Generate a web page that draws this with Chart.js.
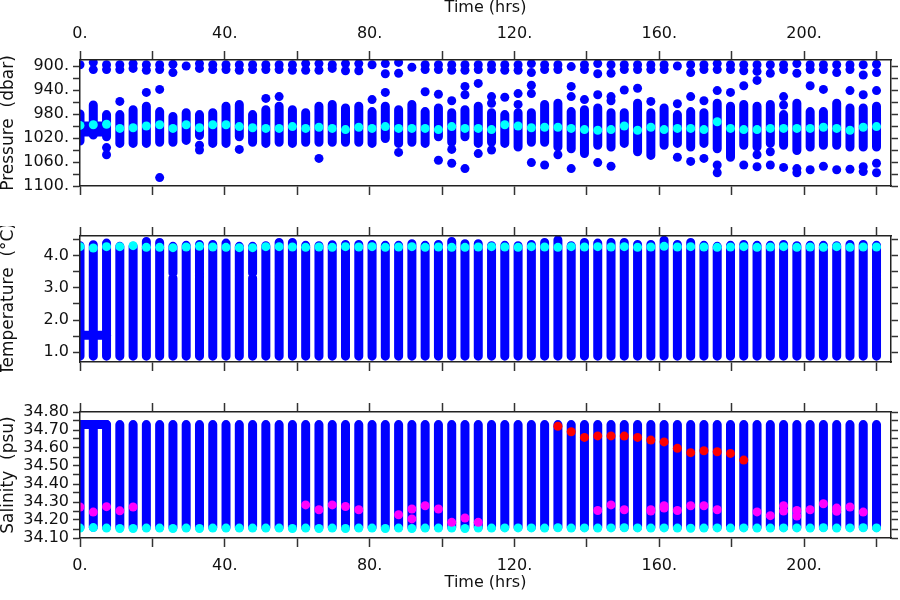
<!DOCTYPE html>
<html>
<head>
<meta charset="utf-8">
<script src="https://cdn.jsdelivr.net/npm/chart.js@4.4.0/dist/chart.umd.min.js"></script>
<style>
  body { margin: 0; background: #fff; }
  canvas { position: absolute; left: 0; }
</style>
</head>
<body>
<canvas id="presChart" width="900" height="196" style="top:0px"></canvas>
<canvas id="tempChart" width="900" height="146" style="top:226px"></canvas>
<canvas id="salChart" width="900" height="198" style="top:402px"></canvas>
<script>
// profile times (hrs)
const times = [0, 3.67, 7.33, 11.0, 14.67, 18.33, 22.0, 25.67, 29.33, 33.0, 36.67, 40.33, 44.0, 47.67, 51.33,
  55.0, 58.67, 62.33, 66.0, 69.67, 73.33, 77.0, 80.67, 84.33, 88.0, 91.67, 95.33, 99.0, 102.67, 106.33,
  110.0, 113.67, 117.33, 121.0, 124.67, 128.33, 132.0, 135.67, 139.33, 143.0, 146.67, 150.33, 154.0, 157.67,
  161.33, 165.0, 168.67, 172.33, 176.0, 179.67, 183.33, 187.0, 190.67, 194.33, 198.0, 201.67, 205.33, 209.0,
  212.67, 216.33, 220.0];
const tMax = 224;

// instrument parked at start
const parkTimes = [0, 7.33];
const parkPres = [1000, 1010];
const parkTemp = [1.53];
const parkSal = [34.73];

// pressure (dbar): dense band per profile, scattered samples, mean
const presLo = [980, 965, 981, 981, 973, 967, 976, 984, 978, 981, 978, 967, 964, 981, 973, 967, 973, 978, 967, 964,
  970, 967, 976, 967, 973, 964, 976, 970, 978, 973, 967, 978, 981, 978, 978, 964, 962, 976, 973, 970,
  978, 978, 962, 978, 970, 981, 976, 978, 962, 967, 964, 967, 964, 981, 962, 976, 976, 962, 970, 970, 967];
const presHi = [1025, 1015, 1018, 1029, 1029, 1029, 1027, 1027, 1024, 1016, 1029, 1029, 1018, 1027, 1029, 1027, 1029,
  1027, 1027, 1027, 1027, 1027, 1029, 1021, 1029, 1027, 1029, 1018, 1027, 1018, 1029, 1027, 1029, 1035, 1027,
  1027, 1035, 1038, 1046, 1032, 1035, 1029, 1043, 1049, 1032, 1029, 1035, 1029, 1038, 1052, 1032, 1035, 1029,
  1032, 1041, 1035, 1032, 1032, 1035, 1035, 1035];
const presMean = [999, 998, 997, 1004, 1003, 1000, 998, 1004, 998, 1003, 998, 998, 1001, 1003, 1004, 1004, 1001,
  1004, 1002, 1004, 1006, 1002, 1004, 1001, 1004, 1004, 1004, 1006, 1001, 1004, 1004, 1006, 998, 1000, 1003,
  1002, 1002, 1004, 1006, 1007, 1006, 1000, 1007, 1002, 1006, 1004, 1004, 1006, 993, 1004, 1006, 1006, 1004,
  1004, 1004, 1004, 1002, 1004, 1007, 1002, 1001];
const presDots = [
  [898], [894, 906], [898, 906, 1036, 1048], [898, 906, 959], [896, 904], [898, 907, 944],
  [898, 906, 939, 1086], [897, 911], [900], [896, 904, 1032, 1040], [898, 906], [898, 906],
  [898, 907, 1039], [898, 906], [898, 906, 954], [898, 906, 951], [898, 907], [896, 907],
  [896, 907, 1054], [898, 904], [896, 908], [896, 908], [898, 956], [896, 913, 944],
  [894, 912, 1044], [902], [898, 906, 943], [898, 906, 947, 1057], [898, 907, 958, 1039, 1062],
  [898, 907, 934, 948, 1071], [898, 906, 929, 1046], [898, 906, 951, 962, 1040], [898, 907, 952],
  [898, 907, 946, 964], [896, 911, 932, 946, 1061], [898, 906, 1065], [898, 906, 1048],
  [901, 934, 951, 1071], [898, 906, 956], [896, 913, 948, 1061], [898, 912, 951, 958, 1067],
  [898, 906, 940], [898, 906, 937], [898, 906, 959], [898, 906], [900, 963, 1052],
  [898, 911, 951, 1059], [898, 906, 958, 1054], [896, 906, 941, 1065, 1078], [898, 906, 944],
  [898, 908, 933, 1065], [898, 909, 924, 1048, 1068], [898, 912, 1043, 1065], [898, 906, 951, 965, 1069],
  [896, 912, 1071, 1078], [898, 906, 933, 1073], [898, 906, 939, 1067], [898, 911, 1073],
  [898, 906, 941, 1072], [898, 915, 948, 1068, 1076], [897, 911, 941, 1062, 1078]
];

// temperature (deg C)
const tempBottom = 0.88;
const tempTop = [4.30, 4.33, 4.38, 4.28, 4.28, 4.43, 4.40, 4.28, 4.31, 4.34, 4.34, 4.38, 4.28, 4.28, 4.30, 4.40,
  4.40, 4.31, 4.30, 4.33, 4.34, 4.34, 4.34, 4.31, 4.31, 4.36, 4.31, 4.34, 4.43, 4.36, 4.36, 4.30, 4.31, 4.30,
  4.34, 4.40, 4.48, 4.30, 4.40, 4.38, 4.40, 4.40, 4.34, 4.34, 4.47, 4.34, 4.40, 4.31, 4.28, 4.31, 4.34, 4.31,
  4.31, 4.34, 4.30, 4.31, 4.31, 4.30, 4.34, 4.34, 4.31];
const tempMean = [4.27, 4.23, 4.27, 4.27, 4.30, 4.25, 4.25, 4.24, 4.26, 4.28, 4.26, 4.25, 4.24, 4.24, 4.27, 4.27,
  4.26, 4.25, 4.26, 4.25, 4.27, 4.26, 4.27, 4.25, 4.26, 4.27, 4.25, 4.26, 4.25, 4.25, 4.26, 4.27, 4.26, 4.25,
  4.27, 4.26, 4.25, 4.27, 4.26, 4.27, 4.26, 4.27, 4.25, 4.26, 4.28, 4.26, 4.27, 4.26, 4.25, 4.26, 4.27, 4.25,
  4.26, 4.27, 4.25, 4.26, 4.25, 4.27, 4.25, 4.26, 4.26];
const tempGaps = [[7, 3.30, 3.45], [13, 3.30, 3.45]];

// salinity (psu)
const salBottom = 34.16;
const salTop = 34.73;
const salMean = [34.155, 34.158, 34.155, 34.153, 34.153, 34.155, 34.155, 34.153, 34.155, 34.153, 34.155, 34.155,
  34.155, 34.155, 34.155, 34.155, 34.153, 34.155, 34.153, 34.155, 34.153, 34.155, 34.155, 34.153, 34.155,
  34.153, 34.155, 34.155, 34.155, 34.153, 34.155, 34.155, 34.156, 34.156, 34.156, 34.155, 34.157, 34.155,
  34.156, 34.155, 34.156, 34.157, 34.156, 34.155, 34.156, 34.155, 34.154, 34.155, 34.156, 34.155, 34.156,
  34.155, 34.155, 34.156, 34.156, 34.155, 34.157, 34.155, 34.156, 34.157, 34.156];
const salMagenta = [[0, 34.272], [1, 34.244], [2, 34.274], [3, 34.251], [4, 34.272], [17, 34.284], [18, 34.257],
  [19, 34.284], [20, 34.275], [21, 34.257], [24, 34.229], [25, 34.261], [25, 34.206], [26, 34.279],
  [27, 34.261], [28, 34.187], [29, 34.211], [30, 34.187], [39, 34.253], [40, 34.284], [41, 34.257],
  [43, 34.257], [43, 34.250], [44, 34.279], [44, 34.266], [45, 34.253], [46, 34.279], [47, 34.279],
  [48, 34.257], [51, 34.245], [52, 34.224], [53, 34.279], [53, 34.250], [54, 34.253], [54, 34.222],
  [55, 34.257], [56, 34.290], [57, 34.266], [57, 34.248], [58, 34.272], [59, 34.244]];
const salRed = [[36, 34.721], [37, 34.690], [38, 34.659], [39, 34.667], [40, 34.667], [41, 34.666], [42, 34.659],
  [43, 34.644], [44, 34.634], [45, 34.598], [46, 34.574], [47, 34.585], [48, 34.579], [49, 34.570], [50, 34.533]];

const BLUE = '#0000ff', CYAN = '#00ffff', MAGENTA = '#ff00ff', RED = '#ff0000';
const FONT = 'DejaVu Sans';
const INK = '#111';

function columns(lo, hi, gaps) {
  const pts = [];
  times.forEach(function (t, i) {
    let start = Array.isArray(lo) ? lo[i] : lo;
    const top = Array.isArray(hi) ? hi[i] : hi;
    (gaps || []).filter(g => g[0] === i).forEach(function (g) {
      pts.push({x: t, y: start}, {x: t, y: g[1]}, {x: t, y: null});
      start = g[2];
    });
    pts.push({x: t, y: start}, {x: t, y: top}, {x: t, y: null});
  });
  return pts;
}

function park(levels) {
  const pts = [];
  levels.forEach(v => pts.push({x: parkTimes[0], y: v}, {x: parkTimes[1], y: v}, {x: parkTimes[1], y: null}));
  return pts;
}

function perProfile(values) {
  return times.map((t, i) => ({x: t, y: values[i]}));
}

function picked(list) {
  return list.map(p => ({x: times[p[0]], y: p[1]}));
}

function scattered(lists) {
  const pts = [];
  lists.forEach((vals, i) => vals.forEach(v => pts.push({x: times[i], y: v})));
  return pts;
}

function band(data) {
  return { data: data, showLine: true, borderColor: BLUE, borderWidth: 9, borderCapStyle: 'round',
    pointRadius: 0, order: 5 };
}

function dots(data, color, order) {
  return { data: data, showLine: false, pointRadius: 4.5, pointBackgroundColor: color,
    pointBorderWidth: 0, order: order };
}

function timeAxis(position, withLabels, size) {
  return {
    type: 'linear', position: position, min: 0, max: tMax,
    afterFit: function (s) { s.height = size; s.paddingLeft = 0; s.paddingRight = 0; },
    border: { display: true, color: '#222', width: 1.5, z: 1 },
    grid: { drawOnChartArea: false, drawTicks: true, tickLength: 9, tickWidth: 1.5, tickColor: '#333' },
    ticks: {
      display: withLabels, stepSize: 20, autoSkip: false, includeBounds: false, maxRotation: 0, minRotation: 0,
      padding: position === 'top' ? 8 : 9, color: INK, font: { family: FONT, size: 16 },
      callback: v => (v % 40 === 0 ? v + '.' : '')
    },
    title: {
      display: withLabels, text: 'Time (hrs)', color: INK, font: { family: FONT, size: 16, lineHeight: 1 },
      padding: position === 'top' ? { top: 0, bottom: 0 } : { top: 0, bottom: 9 }
    }
  };
}

function valueAxis(position, withLabels, cfg) {
  return {
    type: 'linear', position: position, min: cfg.min, max: cfg.max, reverse: !!cfg.reverse,
    afterFit: function (s) { s.width = position === 'left' ? 80 : 9; s.paddingTop = 0; s.paddingBottom = 0; },
    border: { display: true, color: '#222', width: 1.5, z: 1 },
    grid: { drawOnChartArea: false, drawTicks: true, tickLength: 7, tickWidth: 1.5, tickColor: '#333' },
    ticks: {
      display: withLabels, stepSize: cfg.step, autoSkip: false, includeBounds: false, padding: 4,
      color: INK, font: { family: FONT, size: 16 }, callback: cfg.label
    },
    title: {
      display: withLabels, text: cfg.title, color: INK, font: { family: FONT, size: 17, lineHeight: 1 },
      padding: { top: 0, bottom: 0 }
    }
  };
}

function panel(id, cfg, datasets) {
  const ctx = document.getElementById(id).getContext('2d');
  return new Chart(ctx, {
    type: 'scatter',
    data: { datasets: datasets },
    options: {
      responsive: false,
      animation: false,
      devicePixelRatio: 1,
      events: [],
      layout: { padding: 0, autoPadding: false },
      plugins: { legend: { display: false }, tooltip: { enabled: false } },
      scales: {
        x: timeAxis('bottom', cfg.bottomLabels, cfg.bottomSize),
        x2: timeAxis('top', cfg.topLabels, cfg.topSize),
        y: valueAxis('left', true, cfg),
        y2: valueAxis('right', false, cfg)
      }
    }
  });
}

document.addEventListener('DOMContentLoaded', function () {
  panel('presChart', {
    min: 890, max: 1100, step: 20, reverse: true, title: 'Pressure  (dbar)',
    label: v => ((v - 900) % 40 === 0 ? v + '.' : ''),
    topLabels: true, topSize: 60, bottomLabels: false, bottomSize: 10
  }, [
    band(columns(presLo, presHi)),
    band(park(parkPres)),
    dots(scattered(presDots), BLUE, 4),
    dots(perProfile(presMean), CYAN, 2)
  ]);

  panel('tempChart', {
    min: 0.7, max: 4.6, step: 0.5, title: 'Temperature  (\u00b0C)',
    label: v => (Math.abs(v - Math.round(v)) < 1e-6 ? v.toFixed(1) : ''),
    topLabels: false, topSize: 10, bottomLabels: false, bottomSize: 10
  }, [
    band(columns(tempBottom, tempTop, tempGaps)),
    band(park(parkTemp)),
    dots(perProfile(tempMean), CYAN, 2)
  ]);

  panel('salChart', {
    min: 34.1, max: 34.8, step: 0.05, title: 'Salinity  (psu)',
    label: v => (Math.round(v * 100) % 10 === 0 ? v.toFixed(2) : ''),
    topLabels: false, topSize: 10, bottomLabels: true, bottomSize: 62
  }, [
    band(columns(salBottom, salTop)),
    band(park(parkSal)),
    dots(perProfile(salMean), CYAN, 2),
    dots(picked(salMagenta), MAGENTA, 1),
    dots(picked(salRed), RED, 0)
  ]);
});
</script>
</body>
</html>
